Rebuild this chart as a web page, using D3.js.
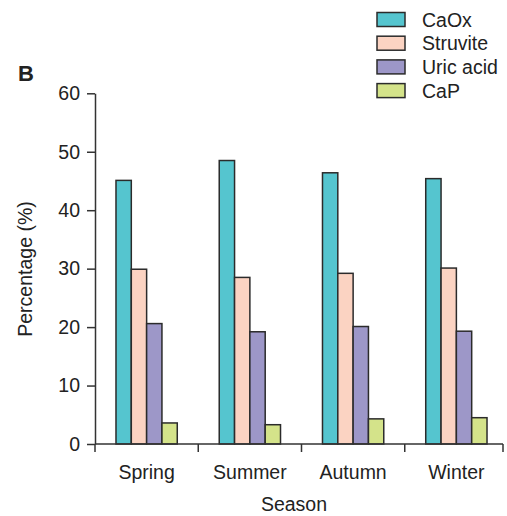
<!DOCTYPE html>
<html>
<head>
<meta charset="utf-8">
<script src="https://cdn.jsdelivr.net/npm/d3@7"></script>
<style>
  html, body { margin: 0; padding: 0; background: #fff; }
  svg { display: block; font-family: "Liberation Sans", Arial, sans-serif; }
</style>
</head>
<body>
<svg id="chart" width="507" height="516"></svg>
<script>
const seasons = ["Spring", "Summer", "Autumn", "Winter"];
const seriesNames = ["CaOx", "Struvite", "Uric acid", "CaP"];
const caox = [45.1, 48.5, 46.4, 45.4];
const struvite = [29.9, 28.5, 29.2, 30.1];
const uricAcid = [20.6, 19.2, 20.1, 19.3];
const cap = [3.6, 3.3, 4.3, 4.5];
const yTicks = [0, 10, 20, 30, 40, 50, 60];
const colors = ["#55c5cf", "#fbd3c2", "#9d97c8", "#d4e38a"];

const seriesValues = [caox, struvite, uricAcid, cap];
const data = seasons.map((s, i) => ({
  season: s,
  values: seriesNames.map((n, j) => ({ name: n, value: seriesValues[j][i], color: colors[j] }))
}));

const svg = d3.select("#chart");
const axisColor = "#333";
const fontSize = 19.5;

const x0 = d3.scaleBand().domain(seasons).range([95, 508]).paddingInner(0).paddingOuter(0);
const x1 = d3.scaleBand().domain(seriesNames).range([0, x0.bandwidth()]).paddingInner(0).paddingOuter(1.37);
const y = d3.scaleLinear().domain([0, 60]).range([444, 93.3]);

// bars
const groups = svg.append("g").selectAll("g").data(data).join("g")
  .attr("transform", d => `translate(${x0(d.season)},0)`);
groups.selectAll("rect").data(d => d.values).join("rect")
  .attr("x", d => x1(d.name))
  .attr("y", d => y(d.value))
  .attr("width", x1.bandwidth())
  .attr("height", d => y(0) - y(d.value))
  .attr("fill", d => d.color)
  .attr("stroke", "#2b2b2b")
  .attr("stroke-width", 1.5);

// y axis
const yAxis = svg.append("g").attr("transform", "translate(95,0)")
  .call(d3.axisLeft(y).tickValues(yTicks).tickSize(8).tickPadding(7).tickSizeOuter(0));
yAxis.select(".domain").attr("stroke", axisColor).attr("stroke-width", 1.5);
yAxis.selectAll(".tick line").attr("stroke", axisColor).attr("stroke-width", 1.5);
yAxis.selectAll(".tick text").attr("font-size", fontSize).attr("fill", "#222")
  .attr("font-family", "Liberation Sans, Arial, sans-serif");

// x axis
const xEnd = 503;
const xg = svg.append("g");
xg.append("line").attr("x1", 95).attr("x2", xEnd).attr("y1", y(0)).attr("y2", y(0))
  .attr("stroke", axisColor).attr("stroke-width", 1.5);
const tickXs = seasons.map(s => x0(s)).concat([xEnd]);
xg.selectAll("line.tk").data(tickXs).join("line").attr("class", "tk")
  .attr("x1", d => d).attr("x2", d => d)
  .attr("y1", y(0)).attr("y2", y(0) + 8)
  .attr("stroke", axisColor).attr("stroke-width", 1.5);
xg.selectAll("text").data(seasons).join("text")
  .attr("x", d => x0(d) + x0.bandwidth() / 2)
  .attr("y", 479)
  .attr("text-anchor", "middle")
  .attr("font-size", fontSize)
  .attr("fill", "#222")
  .text(d => d);

// axis titles
svg.append("text").attr("x", 294).attr("y", 511).attr("text-anchor", "middle")
  .attr("font-size", fontSize).attr("fill", "#222").text("Season");
svg.append("text").attr("transform", "translate(32,269) rotate(-90)").attr("text-anchor", "middle")
  .attr("font-size", fontSize).attr("fill", "#222").text("Percentage (%)");

// panel label
svg.append("text").attr("x", 18).attr("y", 81).attr("font-size", 22).attr("font-weight", "bold")
  .attr("fill", "#222").text("B");

// legend
const legend = svg.append("g").selectAll("g").data(seriesNames).join("g")
  .attr("transform", (d, i) => `translate(377,${12.5 + i * 23.7})`);
legend.append("rect").attr("width", 28).attr("height", 14)
  .attr("fill", (d, i) => colors[i]).attr("stroke", "#2b2b2b").attr("stroke-width", 1.5);
legend.append("text").attr("x", 45).attr("y", 14).attr("font-size", fontSize).attr("fill", "#222")
  .text(d => d);
</script>
</body>
</html>
